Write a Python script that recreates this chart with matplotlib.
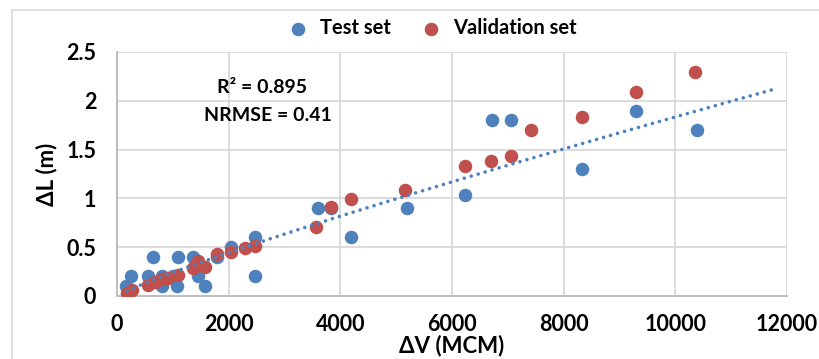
import numpy as np
import matplotlib.pyplot as plt
from matplotlib.patches import Rectangle

# test set (blue)
test_x = [170, 250, 554, 643, 800, 800, 1000, 1071, 1090, 1357, 1450, 1570, 1800,
          2050, 2480, 2480, 3600, 3840, 4200, 5200, 6230, 6720, 7060, 8330, 9300, 10380]
test_y = [0.1, 0.2, 0.2, 0.4, 0.2, 0.1, 0.2, 0.1, 0.4, 0.4, 0.2, 0.1, 0.4,
          0.5, 0.6, 0.2, 0.9, 0.9, 0.6, 0.9, 1.03, 1.8, 1.8, 1.3, 1.9, 1.7]

# validation set (red)
val_x = [179, 268, 554, 679, 800, 911, 1090, 1357, 1450, 1570, 1800, 2050, 2300, 2480,
         3570, 3840, 4200, 5160, 6230, 6700, 7060, 7410, 8330, 9300, 10360]
val_y = [0.03, 0.06, 0.11, 0.14, 0.17, 0.18, 0.22, 0.29, 0.36, 0.3, 0.43, 0.45, 0.49, 0.51,
         0.71, 0.91, 0.99, 1.09, 1.33, 1.38, 1.43, 1.7, 1.83, 2.09, 2.29]

# power trendline: L = a * V^b
trend_a = 0.000544
trend_b = 0.882
trend_range = (180, 11750)

blue = '#4F81BD'
red = '#C0504D'
font = 'Lato'

fig = plt.figure(figsize=(8.2, 3.59), dpi=100)
ax = fig.add_axes([117/820, 1-296/359, (787-117)/820, (296-52)/359])

# outer chart border
fig.patches.append(Rectangle((12/820, -0.1), 1.0, 1.1 - 10/359, transform=fig.transFigure,
                             fill=False, edgecolor='#D9D9D9', lw=1.2))

ax.scatter(test_x, test_y, s=95, color=blue, label='Test set', zorder=3, linewidths=0)
ax.scatter(val_x, val_y, s=95, color=red, label='Validation set', zorder=4, linewidths=0)

tv = np.linspace(trend_range[0], trend_range[1], 300)
ax.plot(tv, trend_a * tv ** trend_b, color=blue, lw=2.6, linestyle=(0, (0.01, 2.0)),
        dash_capstyle='round', zorder=5)

ax.set_xlim(0, 12000)
ax.set_ylim(0, 2.5)
ax.set_xticks(np.arange(0, 12001, 2000))
ax.set_yticks([0, 0.5, 1, 1.5, 2, 2.5])
ax.set_yticklabels(['0', '0.5', '1', '1.5', '2', '2.5'])
ax.grid(True, color='#D9D9D9', lw=1.3, zorder=0)
ax.set_axisbelow(True)
for s in ['top', 'right']:
    ax.spines[s].set_visible(False)
for s in ['left', 'bottom']:
    ax.spines[s].set_color('#BFBFBF')
    ax.spines[s].set_linewidth(1.5)
ax.tick_params(length=0, labelsize=15.5)
ax.tick_params(axis='y', pad=15)
ax.tick_params(axis='x', pad=13)
for lab in ax.get_xticklabels() + ax.get_yticklabels():
    lab.set_fontfamily(font)
    lab.set_fontweight('bold')

ax.set_xlabel('ΔV (MCM)', fontsize=16, fontweight='bold', family=font, labelpad=0)
ax.set_ylabel('ΔL (m)', fontsize=16, fontweight='bold', family=font, labelpad=6)

ax.text(2600, 2.14, 'R² = 0.895', ha='center', va='center', fontsize=14,
        fontweight='bold', family=font)
ax.text(2700, 1.85, 'NRMSE = 0.41', ha='center', va='center', fontsize=14,
        fontweight='bold', family=font)

fig.legend(loc='center', bbox_to_anchor=(427/820, 1 - 28/359), ncol=2, frameon=False,
           prop={'family': font, 'weight': 'bold', 'size': 14.5}, handletextpad=0.1,
           columnspacing=1.0, markerscale=1.0)

fig.savefig('out.png', dpi=100)
